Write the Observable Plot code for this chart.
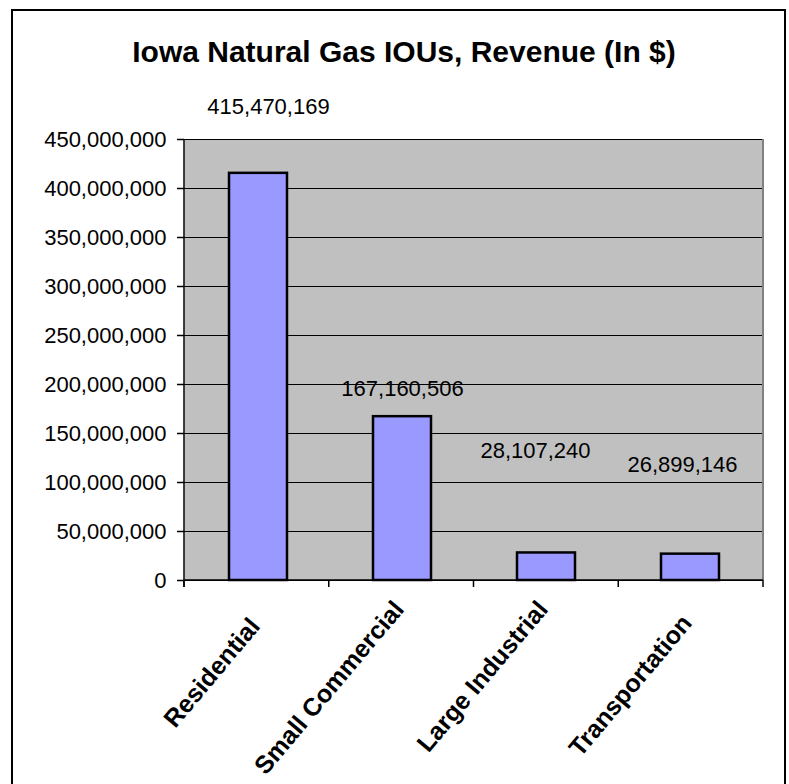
<!DOCTYPE html>
<html>
<head>
<meta charset="utf-8">
<script src="https://cdn.jsdelivr.net/npm/d3@7"></script>
<script src="https://cdn.jsdelivr.net/npm/@observablehq/plot@0.6"></script>
<style>
  html, body { margin: 0; padding: 0; background: white; }
  #wrap { position: relative; width: 789px; height: 784px; overflow: hidden; font-family: "Liberation Sans", Arial, sans-serif; }
  #title { position: absolute; left: 0; top: 37px; width: 808px; text-align: center; font-size: 30px; line-height: 30px; font-weight: bold; color: black; z-index: 2; }
  #chart { position: absolute; left: 0; top: 0; }
  #border { position: absolute; left: 11px; top: 9px; width: 771px; height: 790px; border: 2px solid black; z-index: 3; pointer-events: none; }
</style>
</head>
<body>
<div id="wrap">
  <div id="chart"></div>
  <div id="title">Iowa Natural Gas IOUs, Revenue (In $)</div>
  <div id="border"></div>
</div>
<script>
const categories = ["Residential", "Small Commercial", "Large Industrial", "Transportation"];
const revenue = [415470169, 167160506, 28107240, 26899146];
const yTicks = [0, 50000000, 100000000, 150000000, 200000000, 250000000, 300000000, 350000000, 400000000, 450000000];

const data = categories.map((c, i) => ({category: c, revenue: revenue[i]}));

// pixel offsets mimicking the original placement of the value labels and category labels
const labelDx = [10, 0, -11, -8];
const labelDy = [-66, -28, -102, -89];
const catDy = [35, 18, 18, 32];

function axisFrame(index, scales, values, dims) {
  const {width, height, marginLeft, marginRight, marginTop, marginBottom} = dims;
  const x0 = marginLeft, x1 = width - marginRight, yb = height - marginBottom;
  const n = categories.length;
  const step = (x1 - x0) / n;
  const g = d3.create("svg:g");
  g.append("line").attr("x1", x1).attr("x2", x1).attr("y1", marginTop).attr("y2", yb)
    .attr("stroke", "#808080").attr("stroke-width", 2);
  g.append("line").attr("x1", x0).attr("x2", x0).attr("y1", marginTop).attr("y2", yb + 7)
    .attr("stroke", "black").attr("stroke-width", 1.5);
  g.append("line").attr("x1", x0).attr("x2", x1).attr("y1", yb).attr("y2", yb)
    .attr("stroke", "black").attr("stroke-width", 1.5);
  for (let i = 0; i <= n; i++) {
    const x = x0 + i * step;
    g.append("line").attr("x1", x).attr("x2", x).attr("y1", yb).attr("y2", yb + 7)
      .attr("stroke", "black").attr("stroke-width", 1.5);
  }
  return g.node();
}

const chart = Plot.plot({
  width: 789,
  height: 784,
  marginLeft: 184,
  marginRight: 26,
  marginTop: 139,
  marginBottom: 204,
  style: {fontFamily: "'Liberation Sans', Arial, sans-serif", background: "transparent", color: "black"},
  x: {domain: categories, paddingInner: 0.6, paddingOuter: 0.3, label: null, axis: null},
  y: {domain: [0, 450000000], label: null},
  marks: [
    Plot.frame({fill: "#c0c0c0", stroke: null}),
    Plot.gridY(yTicks, {stroke: "black", strokeOpacity: 1, strokeWidth: 1}),
    Plot.barY(data, {x: "category", y: "revenue", fill: "#9999ff", stroke: "black", strokeWidth: 2.5}),
    axisFrame,
    Plot.axisY(yTicks, {tickFormat: d3.format(","), tickSize: 7, tickPadding: 11, fontSize: 22, stroke: "black", strokeWidth: 1.5, label: null}),
    ...data.map((d, i) => Plot.text([d], {
      x: "category", y: () => 0, text: "category",
      rotate: -50, textAnchor: "end", lineAnchor: "top",
      dx: -11, dy: catDy[i], fontSize: 25, fontWeight: "bold", fill: "black"
    })),
    ...data.map((d, i) => Plot.text([d], {
      x: "category", y: "revenue", text: v => d3.format(",")(v.revenue),
      dx: labelDx[i], dy: labelDy[i], fontSize: 22, fill: "black"
    }))
  ]
});
document.getElementById("chart").appendChild(chart);
</script>
</body>
</html>
